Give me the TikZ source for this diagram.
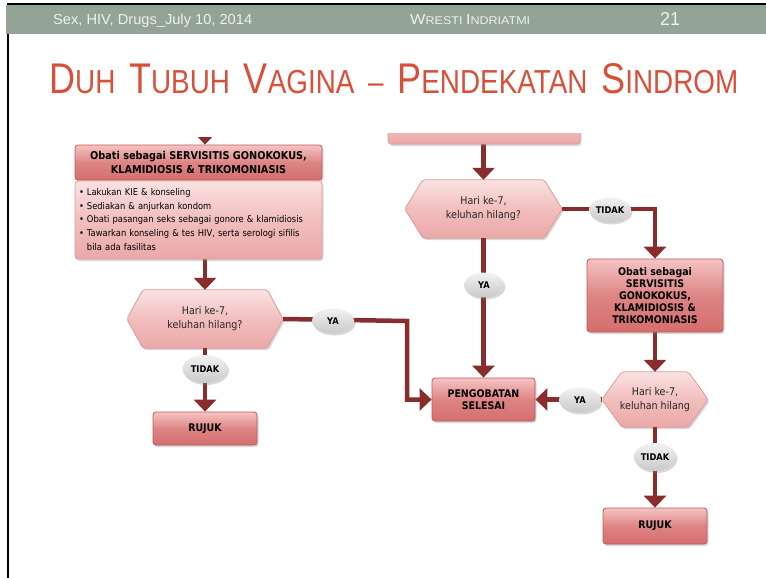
\documentclass[tikz,border=0pt]{standalone}
\usepackage{fontspec}
\usepackage{graphicx}
\usetikzlibrary{arrows.meta,shadows,shapes.geometric}
\setmainfont{DejaVu Sans}[FakeStretch=0.9]
\newfontfamily\headfont{Liberation Sans}
\newfontfamily\titlefont{Liberation Sans}[FakeStretch=0.72]

\definecolor{barc}{HTML}{93A396}
\definecolor{headtxt}{HTML}{EEF1EC}
\definecolor{ttl}{HTML}{D9503A}
\definecolor{connc}{HTML}{8A2C2C}
\definecolor{dkA}{HTML}{F5C4C4}
\definecolor{dkB}{HTML}{DE8484}
\definecolor{dkC}{HTML}{D46E6E}
\definecolor{dkL}{HTML}{C45656}
\definecolor{ltA}{HTML}{FBE2E2}
\definecolor{ltB}{HTML}{F2BEBE}
\definecolor{ltC}{HTML}{EAA8A8}
\definecolor{ltL}{HTML}{E09A9A}
\definecolor{pillA}{HTML}{F2F2F2}
\definecolor{pillB}{HTML}{C9C9C9}

\pgfdeclarelayer{paper}
\pgfdeclarelayer{bg}
\pgfsetlayers{paper,bg,main}

% title in faked small capitals
\newcommand\capL[1]{{\fontsize{40}{40}\selectfont #1}}
\newcommand\capS[1]{{\fontsize{31}{31}\selectfont #1}}
\newcommand\wgap{\hspace{11pt}}

\tikzset{
  boxshadow/.style={drop shadow={shadow xshift=1.5pt, shadow yshift=-2pt, opacity=0.3}},
  link/.style={draw=connc, line width=4.5pt},
  conn/.style={link, -{Triangle[width=22pt,length=12pt]}},
  darkbox/.style={draw=dkL, line width=0.8pt, rounded corners=3pt,
    top color=dkA, bottom color=dkC, middle color=dkB, boxshadow,
    font=\fontsize{10.5}{12}\selectfont\bfseries, align=center, inner sep=2pt, text=black},
  lightbox/.style={draw=ltL, line width=0.8pt, rounded corners=3pt,
    top color=ltA, bottom color=ltC, middle color=ltB, boxshadow, text=black},
  hexshape/.style={draw=ltL, line width=0.8pt, rounded corners=2pt,
    top color=ltA, bottom color=ltC, middle color=ltB, boxshadow},
  hexlabel/.style={rectangle, inner sep=0pt, align=center,
    font=\fontsize{10.6}{14}\selectfont, text=black!85},
  pill/.style={ellipse, inner sep=0pt, minimum width=42pt, minimum height=25pt,
    top color=pillA, bottom color=pillB, boxshadow,
    font=\fontsize{9.2}{9}\selectfont\bfseries, text=black}
}

% hexagon drawn around a label node: #1 node name, #2 inset of the points
\newcommand\hexaround[2]{%
  \path[hexshape] (#1.west) -- ([xshift=#2]#1.north west) -- ([xshift=-#2]#1.north east)
    -- (#1.east) -- ([xshift=-#2]#1.south east) -- ([xshift=#2]#1.south west) -- cycle;}

\begin{document}
\begin{tikzpicture}[x=1pt, y=-1pt]
\useasboundingbox (0,0) rectangle (766,578);
\begin{pgfonlayer}{paper}
  \fill[white] (0,0) rectangle (766,578);
\end{pgfonlayer}

% slide frame and header bar
\fill[black] (6.5,3) rectangle (766,5.5);
\fill[black] (6.5,3) rectangle (9,578);
\fill[barc] (6,5.5) rectangle (766,34);

\node[anchor=base west, inner sep=0pt, text=headtxt] (foot) at (53,25)
  {\resizebox{199pt}{10.5pt}{\headfont Sex, HIV, Drugs\_July 10, 2014}};
\node[anchor=base west, inner sep=0pt, text=headtxt] (author) at (410,25)
  {\resizebox{120pt}{10pt}{\headfont{\fontsize{13}{13}\selectfont W}{\fontsize{10}{10}\selectfont RESTI }{\fontsize{13}{13}\selectfont I}{\fontsize{10}{10}\selectfont NDRIATMI}}};
\node[anchor=base west, inner sep=0pt, text=headtxt] (page) at (660,26)
  {\resizebox{20pt}{13pt}{\headfont 21}};

\node[anchor=base west, inner sep=0pt, text=ttl] (title) at (49,93)
  {\resizebox{689pt}{30pt}{\titlefont\capL{D}\capS{UH}\wgap\capL{T}\capS{UBUH}\wgap\capL{V}\capS{AGINA}\wgap\capS{–}\wgap\capL{P}\capS{ENDEKATAN}\wgap\capL{S}\capS{INDROM}}};

% ---------- flowchart ----------
\begin{scope}
  \clip (0,133) rectangle (766,578);
  \node[lightbox, minimum width=192pt, minimum height=34pt] (topbox) at (484,127) {};
\end{scope}
\coordinate (entry) at (205,100);

\node[darkbox, minimum width=247pt, minimum height=35pt, font=\fontsize{10.8}{12}\selectfont\bfseries] (hdr) at (198.5,162.5)
  {Obati sebagai SERVISITIS GONOKOKUS,\\[1.5pt]KLAMIDIOSIS \& TRIKOMONIASIS};
\node[lightbox, minimum width=247pt, minimum height=78pt, text width=239pt,
      inner xsep=4pt, align=left, font=\fontsize{9.3}{13.7}\selectfont] (bul) at (198.5,220)
  {\begin{tabular}{@{}l@{\hspace{3pt}}l@{}}
   \textbullet & Lakukan KIE \& konseling\\
   \textbullet & Sediakan \& anjurkan kondom\\
   \textbullet & Obati pasangan seks sebagai gonore \& klamidiosis\\
   \textbullet & Tawarkan konseling \& tes HIV, serta serologi sifilis\\
               & bila ada fasilitas
   \end{tabular}};

\node[hexlabel, minimum width=156pt, minimum height=58pt] (h1) at (205,319)
  {Hari ke-7,\\keluhan hilang?};
\node[hexlabel, minimum width=157pt, minimum height=58pt] (h2) at (483.5,209)
  {Hari ke-7,\\keluhan hilang?};
\node[hexlabel, minimum width=106pt, minimum height=55pt] (h3) at (655,399.5)
  {Hari ke-7,\\keluhan hilang};

\node[darkbox, minimum width=104pt, minimum height=33pt] (rj1) at (205,428.5) {RUJUK};
\node[darkbox, minimum width=103pt, minimum height=43pt] (peng) at (483.5,399.5)
  {PENGOBATAN\\SELESAI};
\node[darkbox, minimum width=136pt, minimum height=73pt] (obr) at (655,295.5)
  {Obati sebagai\\SERVISITIS\\GONOKOKUS,\\KLAMIDIOSIS \&\\TRIKOMONIASIS};
\node[darkbox, minimum width=104pt, minimum height=36pt] (rj2) at (655,526) {RUJUK};

\node[pill] (ya1) at (333,321) {YA};
\node[pill, minimum width=45pt, minimum height=28pt] (td1) at (205,369) {TIDAK};
\node[pill] (td2) at (610,210) {TIDAK};
\node[pill, minimum width=40pt] (ya2) at (484,285) {YA};
\node[pill] (ya3) at (580,400) {YA};
\node[pill, minimum height=28pt] (td3) at (655,457) {TIDAK};

\coordinate (j1) at (407,321);

\begin{pgfonlayer}{bg}
  \hexaround{h1}{16pt}
  \hexaround{h2}{18pt}
  \hexaround{h3}{20pt}
  \begin{scope}
    \clip (0,137) rectangle (766,578);
    \draw[conn] (entry) -- (entry |- hdr.north);
  \end{scope}
  \draw[conn] (h1.north |- bul.south) -- (h1.north);
  \draw[conn] (h1.south) -- (rj1.north);
  \draw[conn] (h1.east) -- (j1) -- (j1 |- peng.west) -- (peng.west);
  \draw[conn] (h2.north |- topbox.south) -- (h2.north);
  \draw[conn] (h2.south) -- (peng.north);
  \draw[conn] (h2.east) -| (obr.north);
  \draw[conn] (obr.south) -- (h3.north);
  \draw[conn] (h3.west) -- (peng.east);
  \draw[conn] (h3.south) -- (rj2.north);
\end{pgfonlayer}
\end{tikzpicture}
\end{document}
